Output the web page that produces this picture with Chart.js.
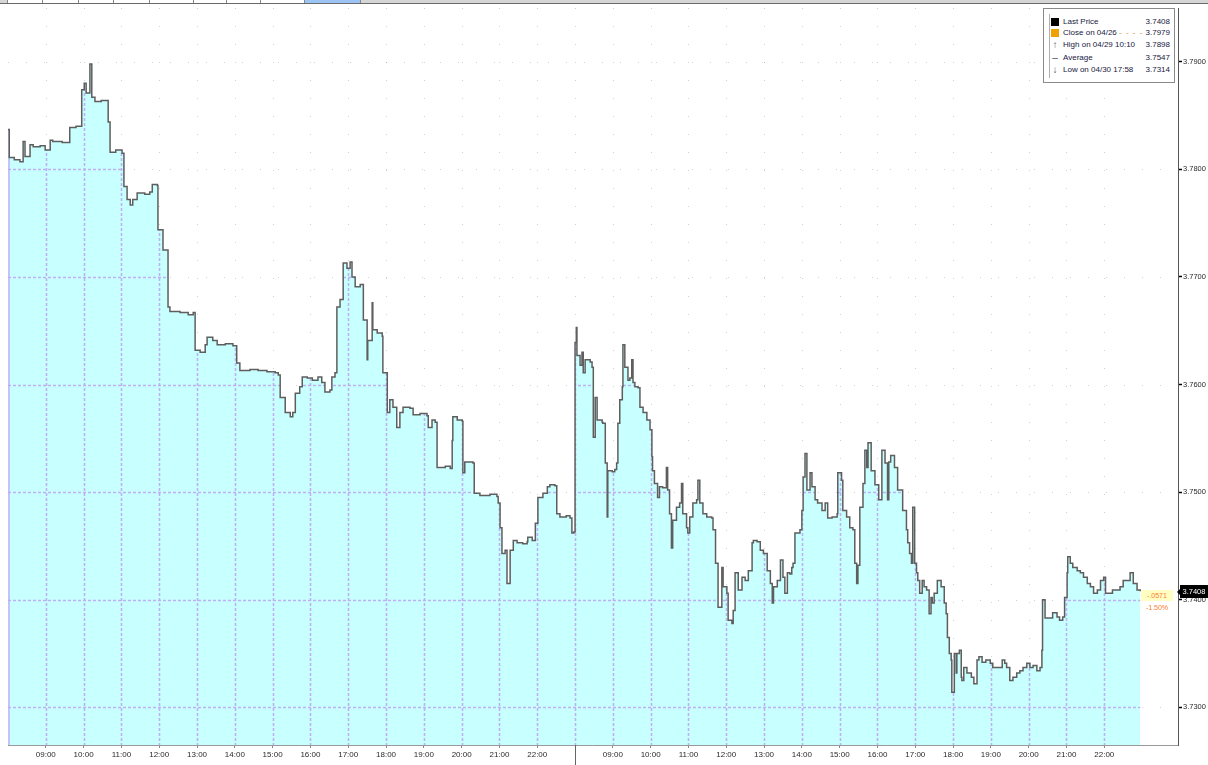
<!DOCTYPE html>
<html><head><meta charset="utf-8">
<script src="https://cdn.jsdelivr.net/npm/chart.js@4.4.1/dist/chart.umd.min.js"></script>
<style>
html,body{margin:0;padding:0;background:#fff;}
#wrap{position:relative;width:1208px;height:765px;overflow:hidden;font-family:"Liberation Sans",Arial,sans-serif;}
#c{position:absolute;left:0;top:0;}
#topbar{position:absolute;left:0;top:0;width:1208px;height:3px;background:#d6d6d6;border-bottom:1px solid #6a6a6a;}
.tb{position:absolute;top:0;height:3px;background:#fff;border-left:1px solid #888;border-right:1px solid #888;}
#legend{position:absolute;left:1043px;top:8px;width:130px;height:73px;border:1px solid #8a8a8a;background:#fff;font-size:8px;color:#202040;}
#legend .row{position:absolute;left:19px;right:4px;height:10px;line-height:10px;white-space:nowrap;}
#legend .v{position:absolute;right:0;top:0;}
#legend .ic{position:absolute;left:7px;width:8px;height:8px;}
#legend .ar{position:absolute;left:6px;width:10px;height:11px;color:#555;font-size:10px;line-height:11px;text-align:center;}
#legend .vline{position:absolute;left:5px;top:5px;width:1px;height:64px;background:#b0b0b0;}
#tag{position:absolute;left:1180px;top:585px;width:28px;height:13px;background:#000;color:#fff;font-size:7.5px;line-height:13px;text-align:center;}
#tag:before{content:"";position:absolute;left:-3px;top:4px;border-top:3px solid transparent;border-bottom:3px solid transparent;border-right:3px solid #000;}
#chg1{position:absolute;left:1141px;top:590px;width:32px;height:11px;background:#ffffc4;color:#ff7a30;font-size:7px;line-height:11px;text-align:center;}
#chg2{position:absolute;left:1141px;top:603px;width:32px;height:10px;color:#ff7a30;font-size:7px;line-height:10px;text-align:center;}
</style></head><body>
<div id="wrap">
<canvas id="c" width="1208" height="765"></canvas>
<div id="topbar">
 <div class="tb" style="left:7px;width:34px"></div>
 <div class="tb" style="left:42px;width:35px"></div>
 <div class="tb" style="left:78px;width:34px"></div>
 <div class="tb" style="left:113px;width:35px"></div>
 <div class="tb" style="left:149px;width:43px"></div>
 <div class="tb" style="left:193px;width:32px"></div>
 <div class="tb" style="left:226px;width:33px"></div>
 <div class="tb" style="left:260px;width:43px"></div>
 <div class="tb" style="left:304px;width:55px;background:#9cc4f4"></div>
</div>
<div id="legend">
 <div class="vline"></div>
 <div class="ic" style="top:9px;background:#000"></div>
 <div class="row" style="top:8px">Last Price<span class="v">3.7408</span></div>
 <div class="ic" style="top:20px;background:#f0a000"></div>
 <div class="row" style="top:19px">Close on 04/26 <span style="color:#d09020;letter-spacing:1px">- - - -</span><span class="v">3.7979</span></div>
 <div class="ar" style="top:30px">↑</div>
 <div class="row" style="top:31px">High on 04/29 10:10<span class="v">3.7898</span></div>
 <div class="ar" style="top:43px">–</div>
 <div class="row" style="top:44px">Average<span class="v">3.7547</span></div>
 <div class="ar" style="top:55px">↓</div>
 <div class="row" style="top:56px">Low on 04/30 17:58<span class="v">3.7314</span></div>
</div>
<div id="chg1">-.0571</div>
<div id="chg2">-1.50%</div>
<div id="tag">3.7408</div>
</div>
<script>
// ---- data (04/29 and 04/30 sessions, 08:00-23:00) ----
const day1Times = ['08:00','08:02','08:10','08:19','08:24','08:27','08:35','08:40','08:51','08:59',
'09:07','09:11','09:26','09:38','09:48','09:57','10:01','10:04','10:10','10:13',
'10:18','10:28','10:39','10:42','10:51','11:01','11:04','11:09','11:14','11:18',
'11:25','11:37','11:45','11:49','11:57','11:58','12:06','12:14','12:17','12:33',
'12:46','12:54','12:57','13:05','13:13','13:16','13:25','13:32','13:45','13:57',
'14:03','14:08','14:24','14:37','14:45','14:51','15:04','15:09','15:12','15:20',
'15:28','15:32','15:36','15:43','15:47','15:55','16:03','16:12','16:18','16:23',
'16:31','16:34','16:39','16:42','16:47','16:52','16:58','17:03','17:06','17:11',
'17:19','17:24','17:30','17:31','17:38','17:39','17:46','17:54','17:55','18:02',
'18:06','18:11','18:17','18:22','18:27','18:38','18:43','18:54','19:05','19:07',
'19:13','19:18','19:21','19:34','19:42','19:45','19:46','19:53','20:01','20:02',
'20:05','20:18','20:20','20:29','20:45','20:56','20:58','21:01','21:04','21:09',
'21:12','21:17','21:22','21:28','21:37','21:44','21:45','21:52','21:57','22:01',
'22:09','22:16','22:20','22:28','22:31','22:36','22:46','22:52','22:55','22:58'];
const day1Prices = [3.7837,3.7811,3.7809,3.7807,3.7826,3.7812,3.7823,3.7821,3.7822,3.7818,
3.7827,3.7826,3.7825,3.7839,3.7840,3.7874,3.7880,3.7871,3.7898,3.7867,
3.7863,3.7864,3.7844,3.7816,3.7818,3.7815,3.7784,3.7772,3.7767,3.7772,
3.7778,3.7777,3.7779,3.7786,3.7785,3.7744,3.7725,3.7672,3.7668,3.7667,
3.7665,3.7667,3.7632,3.7630,3.7637,3.7644,3.7641,3.7637,3.7638,3.7636,
3.7620,3.7613,3.7614,3.7613,3.7613,3.7612,3.7611,3.7609,3.7588,3.7574,
3.7570,3.7574,3.7592,3.7598,3.7607,3.7606,3.7604,3.7607,3.7602,3.7593,
3.7595,3.7607,3.7611,3.7672,3.7679,3.7713,3.7708,3.7714,3.7700,3.7691,
3.7693,3.7660,3.7623,3.7641,3.7676,3.7651,3.7648,3.7645,3.7611,3.7574,
3.7586,3.7579,3.7560,3.7574,3.7579,3.7578,3.7572,3.7573,3.7571,3.7560,
3.7567,3.7565,3.7523,3.7524,3.7522,3.7548,3.7570,3.7567,3.7566,3.7518,
3.7528,3.7527,3.7499,3.7497,3.7498,3.7496,3.7490,3.7467,3.7443,3.7446,
3.7415,3.7446,3.7455,3.7453,3.7452,3.7454,3.7458,3.7455,3.7471,3.7495,
3.7499,3.7505,3.7507,3.7506,3.7480,3.7477,3.7478,3.7476,3.7462,3.7463];
const day2Times = ['08:00','08:02','08:03','08:08','08:11','08:13','08:16','08:24','08:27','08:29',
'08:32','08:35','08:43','08:44','08:48','08:51','08:52','08:59','09:03','09:06',
'09:08','09:11','09:15','09:16','09:19','09:24','09:27','09:30','09:32','09:35',
'09:40','09:43','09:48','09:54','09:59','10:02','10:03','10:06','10:11','10:14',
'10:19','10:25','10:27','10:30','10:33','10:35','10:41','10:46','10:49','10:51',
'10:57','10:59','11:02','11:07','11:13','11:15','11:18','11:23','11:29','11:37',
'11:39','11:43','11:47','11:53','11:55','12:01','12:03','12:09','12:11','12:14',
'12:19','12:25','12:30','12:35','12:41','12:43','12:49','12:54','12:59','13:05',
'13:10','13:13','13:15','13:21','13:26','13:30','13:33','13:37','13:41','13:44',
'13:46','13:49','13:57','14:00','14:02','14:05','14:08','14:13','14:16','14:21',
'14:25','14:32','14:37','14:41','14:48','14:56','14:57','15:03','15:05','15:11',
'15:16','15:21','15:24','15:27','15:29','15:32','15:37','15:40','15:43','15:45',
'15:50','15:56','16:02','16:07','16:12','16:16','16:18','16:21','16:27','16:32',
'16:40','16:46','16:48','16:51','16:54','16:56','16:59','17:02','17:04','17:07',
'17:11','17:14','17:18','17:22','17:25','17:27','17:30','17:35','17:41','17:46',
'17:49','17:51','17:54','17:57','17:58','18:02','18:05','18:06','18:10','18:13',
'18:14','18:17','18:22','18:29','18:33','18:38','18:41','18:46','18:52','18:59',
'19:03','19:10','19:18','19:22','19:25','19:30','19:35','19:41','19:46','19:51',
'19:57','20:02','20:07','20:13','20:18','20:21','20:22','20:26','20:33','20:38',
'20:45','20:49','20:54','20:57','21:01','21:02','21:06','21:10','21:17','21:22',
'21:27','21:33','21:38','21:43','21:49','21:54','21:59','22:02','22:06','22:13',
'22:21','22:25','22:30','22:37','22:41','22:46','22:52','22:57'];
const day2Prices = [3.7639,3.7653,3.7627,3.7618,3.7630,3.7611,3.7623,3.7621,3.7616,3.7551,
3.7588,3.7567,3.7565,3.7564,3.7527,3.7477,3.7520,3.7519,3.7521,3.7527,
3.7564,3.7586,3.7598,3.7637,3.7616,3.7604,3.7606,3.7623,3.7602,3.7598,
3.7597,3.7579,3.7574,3.7567,3.7558,3.7533,3.7520,3.7508,3.7495,3.7505,
3.7504,3.7523,3.7502,3.7480,3.7448,3.7474,3.7486,3.7490,3.7508,3.7480,
3.7467,3.7462,3.7477,3.7490,3.7493,3.7511,3.7490,3.7480,3.7477,3.7476,
3.7465,3.7434,3.7393,3.7430,3.7412,3.7406,3.7381,3.7378,3.7390,3.7425,
3.7409,3.7421,3.7418,3.7427,3.7453,3.7455,3.7454,3.7446,3.7443,3.7427,
3.7415,3.7397,3.7412,3.7418,3.7437,3.7421,3.7406,3.7425,3.7424,3.7430,
3.7434,3.7462,3.7465,3.7483,3.7514,3.7536,3.7502,3.7518,3.7505,3.7493,
3.7490,3.7483,3.7490,3.7476,3.7477,3.7480,3.7518,3.7511,3.7483,3.7477,
3.7467,3.7465,3.7434,3.7415,3.7432,3.7486,3.7508,3.7539,3.7523,3.7546,
3.7520,3.7507,3.7493,3.7539,3.7527,3.7493,3.7528,3.7534,3.7523,3.7502,
3.7483,3.7465,3.7453,3.7443,3.7434,3.7486,3.7434,3.7425,3.7418,3.7406,
3.7418,3.7412,3.7409,3.7387,3.7402,3.7397,3.7406,3.7418,3.7412,3.7397,
3.7387,3.7365,3.7350,3.7344,3.7314,3.7350,3.7332,3.7350,3.7353,3.7328,
3.7325,3.7337,3.7332,3.7328,3.7322,3.7344,3.7347,3.7342,3.7344,3.7341,
3.7337,3.7337,3.7344,3.7341,3.7337,3.7325,3.7328,3.7332,3.7334,3.7337,
3.7341,3.7337,3.7339,3.7334,3.7337,3.7353,3.7400,3.7383,3.7383,3.7388,
3.7384,3.7381,3.7384,3.7402,3.7425,3.7440,3.7434,3.7430,3.7427,3.7425,
3.7421,3.7415,3.7412,3.7406,3.7409,3.7418,3.7421,3.7406,3.7406,3.7409,
3.7409,3.7412,3.7418,3.7418,3.7425,3.7415,3.7409,3.7408];
const xTickLabels = ['09:00','10:00','11:00','12:00','13:00','14:00','15:00','16:00','17:00','18:00','19:00','20:00','21:00','22:00'];
const yTickValues = [3.73,3.74,3.75,3.76,3.77,3.78,3.79];
const sessionOpen = 8, sessionLength = 15; // hours shown per day

// ---- helpers ----
function toX(day, t){ const [h,m] = t.split(':').map(Number); return day*sessionLength + (h - sessionOpen) + m/60; }
const points = day1Times.map((t,i)=>({x:toX(0,t), y:day1Prices[i]}))
  .concat(day2Times.map((t,i)=>({x:toX(1,t), y:day2Prices[i]})));
const xTickValues = [], xLabelMap = {};
[0,1].forEach(d=>{
  xTickLabels.forEach(lbl=>{ const v = toX(d,lbl); xTickValues.push(v); xLabelMap[v.toFixed(3)] = lbl; });
});
const dayBreak = toX(1,'08:00');
xTickValues.push(dayBreak); xLabelMap[dayBreak.toFixed(3)] = '';
xTickValues.sort((a,b)=>a-b);

const LAV = 'rgba(190,172,242,0.95)';
const bbGrid = {
  id:'bbGrid',
  beforeDatasetsDraw(chart){
    const {ctx, chartArea:a, scales:{x,y}} = chart;
    ctx.save();
    ctx.strokeStyle = 'rgba(130,130,130,0.35)'; ctx.lineWidth = 1; ctx.setLineDash([1,17]);
    yTickValues.forEach(v=>{ const py = Math.round(y.getPixelForValue(v))+0.5; ctx.beginPath(); ctx.moveTo(a.left,py); ctx.lineTo(a.right,py); ctx.stroke(); });
    xTickValues.forEach(v=>{ const px = Math.round(x.getPixelForValue(v))+0.5; ctx.beginPath(); ctx.moveTo(px,a.top); ctx.lineTo(px,a.bottom); ctx.stroke(); });
    ctx.restore();
  },
  beforeDatasetDraw(chart){
    const {ctx, chartArea:a, scales:{x,y}} = chart;
    const pts = chart.getDatasetMeta(0).data;
    if(!pts.length) return;
    ctx.save();
    ctx.beginPath();
    ctx.moveTo(pts[0].x, a.bottom);
    ctx.lineTo(pts[0].x, pts[0].y);
    for(let i=1;i<pts.length;i++){ ctx.lineTo(pts[i].x, pts[i-1].y); ctx.lineTo(pts[i].x, pts[i].y); }
    ctx.lineTo(pts[pts.length-1].x, a.bottom);
    ctx.closePath();
    ctx.clip();
    ctx.strokeStyle = LAV; ctx.lineWidth = 1.6; ctx.setLineDash([3,2]);
    yTickValues.forEach(v=>{ const py = Math.round(y.getPixelForValue(v))+0.5; ctx.beginPath(); ctx.moveTo(a.left,py); ctx.lineTo(a.right,py); ctx.stroke(); });
    xTickValues.forEach(v=>{ const px = Math.round(x.getPixelForValue(v))+0.5; ctx.beginPath(); ctx.moveTo(px,a.top); ctx.lineTo(px,a.bottom); ctx.stroke(); });
    ctx.setLineDash([]); ctx.lineWidth = 1.5;
    ctx.beginPath(); ctx.moveTo(a.left+1, a.top); ctx.lineTo(a.left+1, a.bottom); ctx.stroke();
    ctx.restore();
  },
  afterDraw(chart){
    const {ctx, chartArea:a, scales:{x}} = chart;
    const px = Math.round(x.getPixelForValue(dayBreak))+0.5;
    ctx.save(); ctx.strokeStyle = '#666'; ctx.lineWidth = 1;
    ctx.beginPath(); ctx.moveTo(px, a.bottom); ctx.lineTo(px, chart.height); ctx.stroke();
    ctx.restore();
  }
};

new Chart(document.getElementById('c'), {
  type:'line',
  data:{ datasets:[{
    data: points,
    stepped: true,
    fill: 'start',
    backgroundColor: '#c8ffff',
    borderColor: '#5e5e5e',
    borderWidth: 1.5,
    pointRadius: 0,
    tension: 0
  }]},
  options:{
    responsive:false,
    animation:false,
    devicePixelRatio:1,
    layout:{ padding:{ left:8, top:8, right:0, bottom:0 } },
    plugins:{ legend:{display:false}, tooltip:{enabled:false} },
    scales:{
      x:{
        type:'linear', min:0, max:30.95,
        afterBuildTicks: s => { s.ticks = xTickValues.map(v=>({value:v})); },
        afterFit: s => { s.height = 20; },
        grid:{ drawOnChartArea:false, drawTicks:true, tickLength:3, tickColor:'#888', tickWidth:1 },
        border:{ display:true, color:'#999', width:1 },
        ticks:{ autoSkip:false, maxRotation:0, padding:2, color:'#2a2a2a',
          font:{ family:'"Liberation Sans", Arial, sans-serif', size:8 },
          callback: v => xLabelMap[Number(v).toFixed(3)] ?? '' }
      },
      y:{
        type:'linear', position:'right', min:3.7265, max:3.7950,
        afterBuildTicks: s => { s.ticks = yTickValues.map(v=>({value:v})); },
        afterFit: s => { s.width = 30; },
        grid:{ drawOnChartArea:false, drawTicks:true, tickLength:4, tickColor:'#000', tickWidth:1.5 },
        border:{ display:true, color:'#555', width:1 },
        ticks:{ padding:1, color:'#2a2a2a',
          font:{ family:'"Liberation Sans", Arial, sans-serif', size:7.5 },
          callback: v => Number(v).toFixed(4) }
      }
    }
  },
  plugins:[bbGrid]
});
</script>
</body></html>
